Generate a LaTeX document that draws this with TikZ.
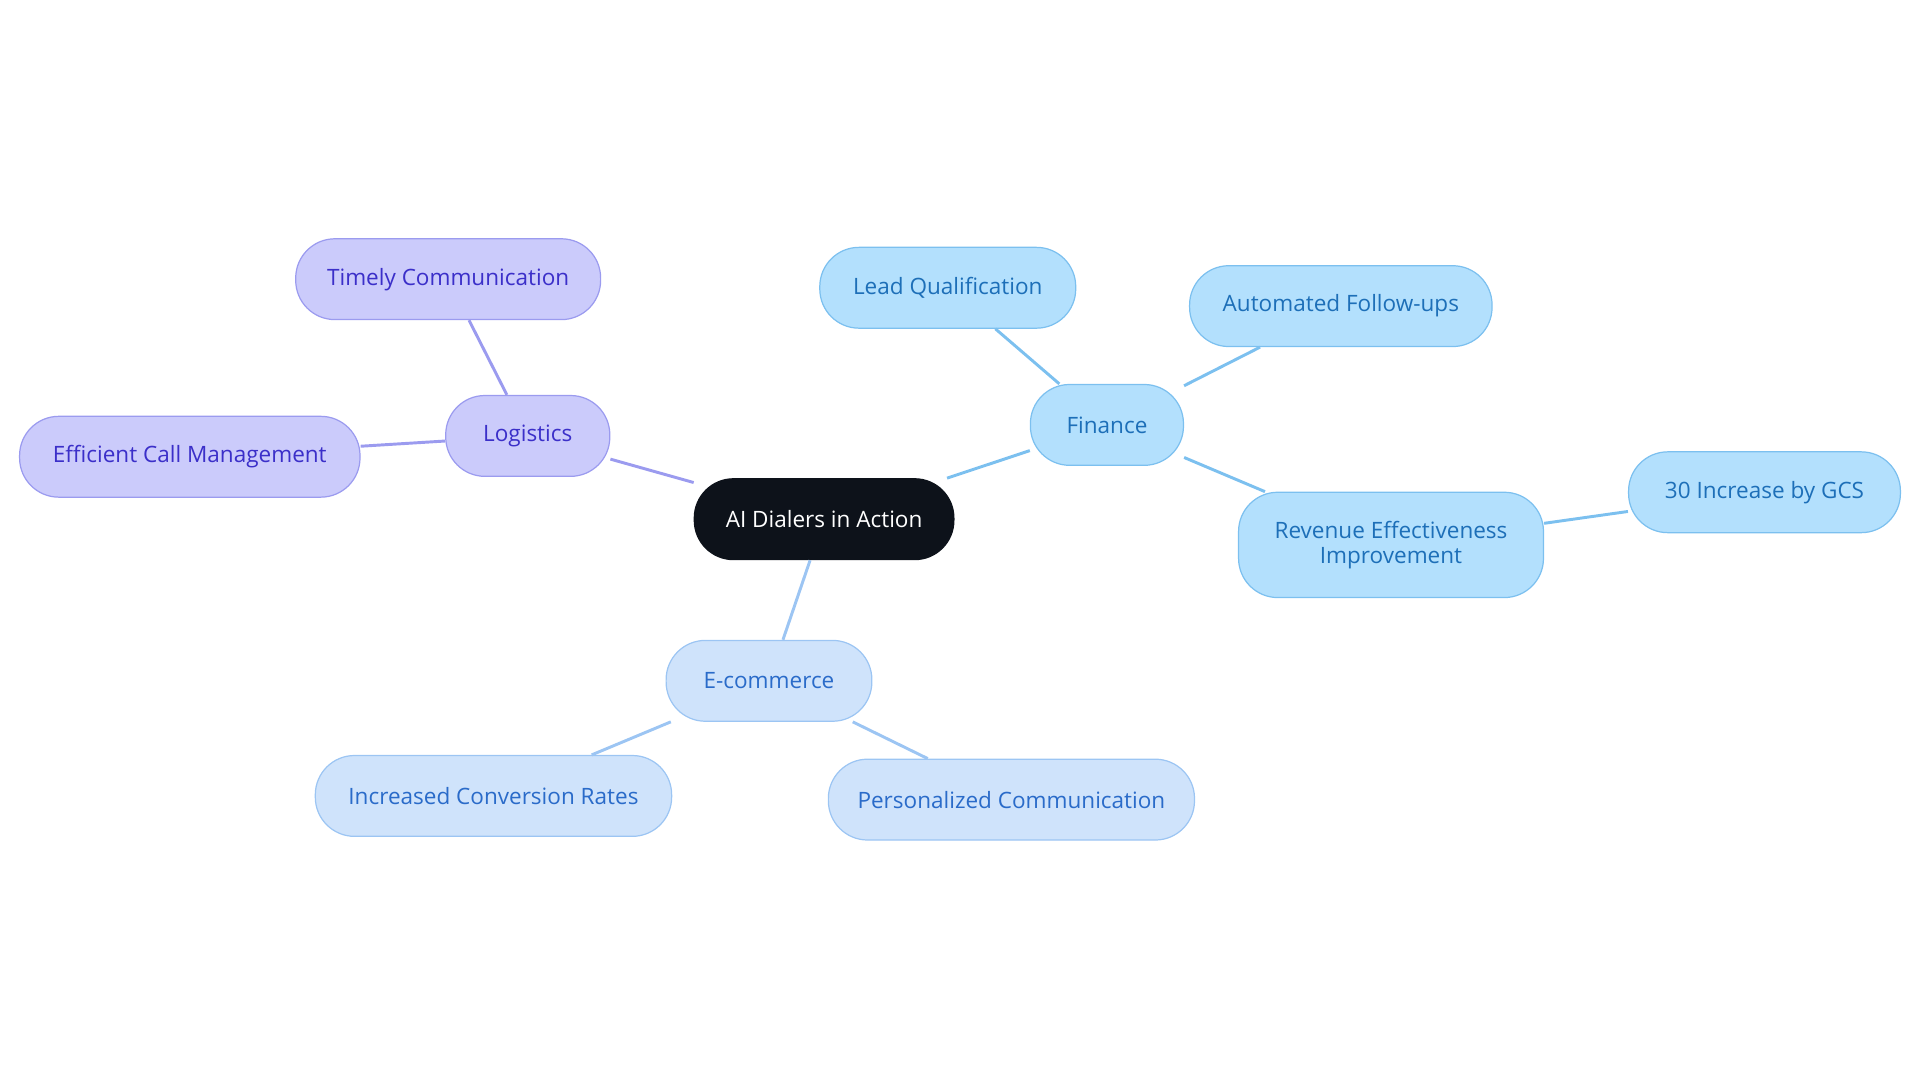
\documentclass[tikz,border=0pt]{standalone}
\usepackage{fontspec}
\setmainfont{Open Sans}
\definecolor{cdark}{HTML}{0D121A}
\definecolor{lfill}{HTML}{CBCBFB}\definecolor{ldraw}{HTML}{9B9BEF}\definecolor{ltext}{HTML}{3B2FC9}
\definecolor{ffill}{HTML}{B3E0FD}\definecolor{fdraw}{HTML}{7CC0EF}\definecolor{ftext}{HTML}{1D6FB8}
\definecolor{efill}{HTML}{CFE3FB}\definecolor{edraw}{HTML}{9CC5F3}\definecolor{etext}{HTML}{2A6BC9}
\begin{document}
\begin{tikzpicture}[x=0.5pt,y=-0.5pt,
  box/.style={rounded corners=16pt,minimum height=33pt,inner sep=0pt,align=center,font=\fontsize{9.2}{10}\selectfont,line width=0.5pt},
  lg/.style={box,fill=lfill,draw=ldraw,text=ltext},
  fn/.style={box,fill=ffill,draw=fdraw,text=ftext},
  ec/.style={box,fill=efill,draw=edraw,text=etext},
  ll/.style={draw=ldraw,line width=1.2pt},
  fl/.style={draw=fdraw,line width=1.2pt},
  el/.style={draw=edraw,line width=1.2pt}]
\useasboundingbox (0,0) rectangle (1568,884);
\node[box,fill=cdark,draw=cdark,text=white,minimum width=106pt] (c) at (673,424) {AI Dialers in Action};
\node[lg,minimum width=67pt] (lo) at (431,356) {Logistics};
\node[lg,minimum width=124.5pt] (tc) at (366,228) {Timely Communication};
\node[lg,minimum width=139pt] (ecm) at (155,373) {Efficient Call Management};
\node[fn,minimum width=62.5pt] (fi) at (904,347) {Finance};
\node[fn,minimum width=104.5pt] (lq) at (774,235) {Lead Qualification};
\node[fn,minimum width=123.5pt] (af) at (1095,250) {Automated Follow-ups};
\node[fn,minimum width=124.5pt,minimum height=43pt] (re) at (1136,445) {Revenue Effectiveness\\Improvement};
\node[fn,minimum width=111pt] (gc) at (1441,402) {30 Increase by GCS};
\node[ec,minimum width=84pt] (em) at (628,556) {E-commerce};
\node[ec,minimum width=145.5pt] (ic) at (403,650) {Increased Conversion Rates};
\node[ec,minimum width=149.5pt] (pc) at (826,653) {Personalized Communication};
\begin{scope}[on background layer/.style={}]
\end{scope}
\path[ll] (c) -- (lo); \path[ll] (lo) -- (tc); \path[ll] (lo) -- (ecm);
\path[fl] (c) -- (fi); \path[fl] (fi) -- (lq); \path[fl] (fi) -- (af); \path[fl] (fi) -- (re); \path[fl] (re) -- (gc);
\path[el] (c) -- (em); \path[el] (em) -- (ic); \path[el] (em) -- (pc);
\end{tikzpicture}
\end{document}
